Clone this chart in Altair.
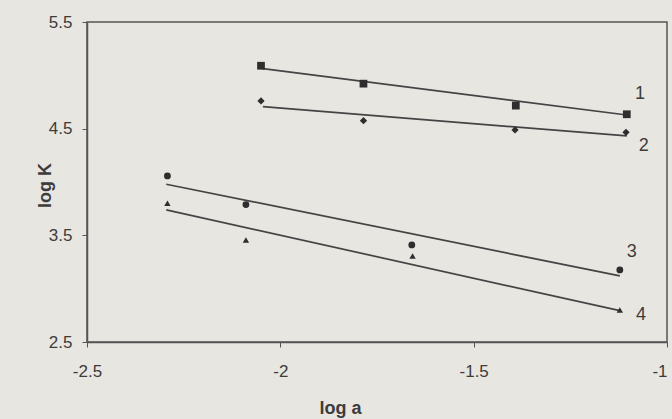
import altair as alt
import pandas as pd

# Measured points (log a, log K) for each series
series_names = ["1", "2", "3", "4"]
loga_1 = [-2.050, -1.785, -1.391, -1.104]
logk_1 = [5.090, 4.922, 4.716, 4.635]
loga_2 = [-2.050, -1.785, -1.393, -1.106]
logk_2 = [4.760, 4.575, 4.488, 4.466]
loga_3 = [-2.292, -2.089, -1.660, -1.122]
logk_3 = [4.057, 3.788, 3.410, 3.176]
loga_4 = [-2.292, -2.089, -1.658, -1.122]
logk_4 = [3.801, 3.457, 3.307, 2.801]

# Fitted straight lines (end points)
fit_x_1 = [-2.050, -1.104]
fit_y_1 = [5.066, 4.628]
fit_x_2 = [-2.045, -1.104]
fit_y_2 = [4.706, 4.432]
fit_x_3 = [-2.295, -1.122]
fit_y_3 = [3.979, 3.120]
fit_x_4 = [-2.295, -1.122]
fit_y_4 = [3.738, 2.794]

# Series labels
label_x = [-1.070, -1.060, -1.091, -1.067]
label_y = [4.825, 4.338, 3.344, 2.754]

x_ticks = [-2.5, -2, -1.5, -1]
y_ticks = [2.5, 3.5, 4.5, 5.5]

pts = pd.concat([
    pd.DataFrame({"loga": xs, "logk": ys, "series": s})
    for s, xs, ys in zip(series_names, [loga_1, loga_2, loga_3, loga_4],
                         [logk_1, logk_2, logk_3, logk_4])
])
fits = pd.concat([
    pd.DataFrame({"loga": xs, "logk": ys, "series": s})
    for s, xs, ys in zip(series_names, [fit_x_1, fit_x_2, fit_x_3, fit_x_4],
                         [fit_y_1, fit_y_2, fit_y_3, fit_y_4])
])
labels = pd.DataFrame({"loga": label_x, "logk": label_y, "series": series_names})

FONT = "Liberation Sans"
INK = "#3c3c3c"

x_scale = alt.Scale(domain=[-2.5, -1], nice=False, zero=False)
y_scale = alt.Scale(domain=[2.5, 5.5], nice=False, zero=False)

x_enc = alt.X(
    "loga:Q", scale=x_scale,
    axis=alt.Axis(
        title="log a", values=x_ticks, labelExpr="'' + datum.value",
        labelFlush=False,
        labelAlign={"condition": {"test": "datum.value == -1", "value": "right"}, "value": "center"},
        grid=False, tickSize=5, labelPadding=16,
        titleX=253, titleY=66, titleBaseline="middle", titleAlign="center",
        labelFontSize=17, titleFontSize=18, titleFontWeight="bold",
    ),
)
y_enc = alt.Y(
    "logk:Q", scale=y_scale,
    axis=alt.Axis(
        title="log K", values=y_ticks, labelExpr="'' + datum.value",
        labelFlush=False, grid=False, tickSize=5, labelPadding=10,
        titleX=-42, titleY=163, titleBaseline="middle", titleAlign="center", titleAngle=270,
        labelFontSize=17, titleFontSize=18, titleFontWeight="bold",
    ),
)

lines = alt.Chart(fits).mark_line(color="#444444", strokeWidth=1.7).encode(
    x=x_enc, y=y_enc, detail="series:N"
)

points = alt.Chart(pts).mark_point(filled=True, opacity=1, color="#2e2e2e").encode(
    x="loga:Q", y="logk:Q",
    shape=alt.Shape("series:N", scale=alt.Scale(domain=series_names,
                    range=["square", "diamond", "circle", "triangle-up"]), legend=None),
    size=alt.Size("series:N", scale=alt.Scale(domain=series_names, range=[60, 40, 55, 45]), legend=None),
)

texts = alt.Chart(labels).mark_text(font=FONT, fontSize=18, color=INK, align="center", baseline="middle").encode(
    x="loga:Q", y="logk:Q", text="series:N"
)

chart = alt.layer(lines, points, texts).properties(
    width=580, height=320,
    autosize=alt.AutoSizeParams(type="none"),
    padding={"left": 87, "top": 22, "right": 5, "bottom": 77},
    background="#e8e6e0",
).configure_view(
    stroke="#555555", strokeWidth=1.5, fill="#e8e6e0"
).configure_axis(
    labelFont=FONT, titleFont=FONT, labelColor=INK, titleColor=INK,
    domainColor="#555555", tickColor="#555555", domainWidth=1.5,
)

chart.save("out.html", embed_options={"renderer": "svg", "actions": False})
